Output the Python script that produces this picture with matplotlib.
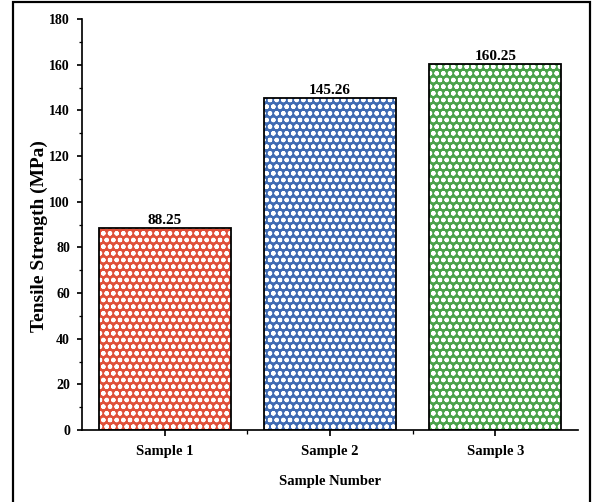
import matplotlib
matplotlib.use("Agg")
import matplotlib.pyplot as plt
from matplotlib.patches import Rectangle
from matplotlib.ticker import MultipleLocator, FixedLocator

categories = ["Sample 1", "Sample 2", "Sample 3"]
values = [88.25, 145.26, 160.25]
value_labels = ["88.25", "145.26", "160.25"]
colors = ["#E0513A", "#3F6BB3", "#4AA24A"]
y_ticks = [0, 20, 40, 60, 80, 100, 120, 140, 160, 180]

DPI = 120
W, H = 592, 502
PX = 72.0 / DPI  # points per pixel

plt.rcParams["font.family"] = ["Liberation Serif", "DejaVu Serif"]
plt.rcParams["font.weight"] = "bold"
plt.rcParams["hatch.linewidth"] = 1.8 * PX

fig = plt.figure(figsize=(W / DPI, H / DPI), dpi=DPI)
ax = fig.add_axes([82 / W, 72 / H, 496 / W, 411 / H])

x = list(range(1, len(categories) + 1))
# coloured bars with white dotted texture
ax.bar(x, values, width=0.8, color=colors, edgecolor="white", linewidth=0,
       hatch="ooo", zorder=2)
# black outlines
ax.bar(x, values, width=0.8, fill=False, edgecolor="black", linewidth=1.8 * PX, zorder=3)

for xi, v, lab in zip(x, values, value_labels):
    ax.annotate(lab, (xi, v), xytext=(0, 1.5 * PX), textcoords="offset points",
                ha="center", va="bottom", fontsize=15.3 * PX, fontweight="bold")

ax.set_xlim(0.5, 3.5)
ax.set_ylim(0, 180)
ax.set_xticks(x)
ax.set_xticklabels(categories, fontsize=14.6 * PX, fontweight="bold")
ax.xaxis.set_minor_locator(FixedLocator([1.5, 2.5]))
ax.set_yticks(y_ticks)
ax.set_yticklabels([str(t) for t in y_ticks], fontsize=13.9 * PX, fontweight="bold")
ax.yaxis.set_minor_locator(MultipleLocator(10))

for s in ["top", "right"]:
    ax.spines[s].set_visible(False)
for s in ["left", "bottom"]:
    ax.spines[s].set_linewidth(1.7 * PX)

ax.tick_params(axis="both", which="major", direction="out", length=5.5 * PX,
               width=1.7 * PX)
ax.tick_params(axis="both", which="minor", direction="out", length=3.5 * PX,
               width=1.3 * PX)
ax.tick_params(axis="y", which="major", pad=6.5 * PX)
ax.tick_params(axis="x", which="major", pad=9.5 * PX)

ax.set_xlabel("Sample Number", fontsize=14.6 * PX, fontweight="bold")
ax.set_ylabel("Tensile Strength (MPa)", fontsize=19.4 * PX, fontweight="bold")
ax.xaxis.set_label_coords(0.5, -(482 - 430) / 411)
ax.xaxis.label.set_va("center")
ax.yaxis.set_label_coords((39 - 82) / 496, (430 - 236) / 411)
ax.yaxis.label.set_va("center")

# outer frame
fig.patches.append(Rectangle((13 / W, -0.05), (590 - 13) / W, 1.05 - 1.5 / H,
                             transform=fig.transFigure, fill=False,
                             edgecolor="black", linewidth=2.2 * PX))

fig.savefig("out.png", dpi=DPI)
